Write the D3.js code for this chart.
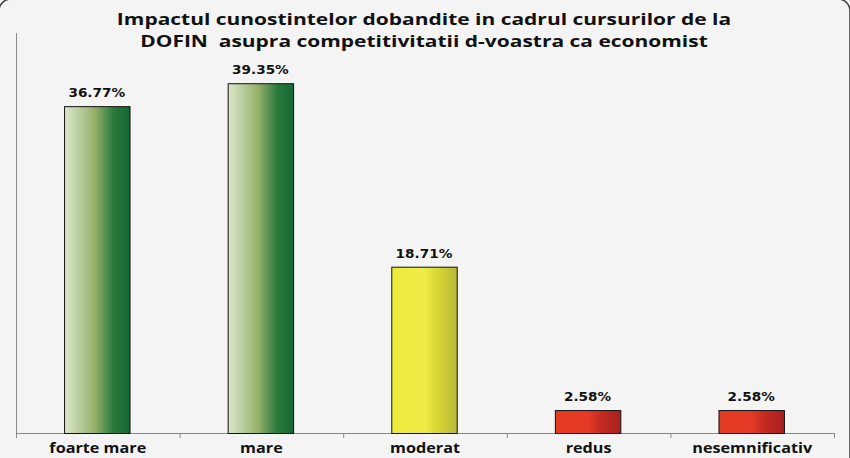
<!DOCTYPE html>
<html>
<head>
<meta charset="utf-8">
<script src="https://cdn.jsdelivr.net/npm/d3@7"></script>
<style>
  body { margin: 0; background: #f3f4f3; }
  text { white-space: pre; }
</style>
</head>
<body>
<script>
// chart values
const categories = ["foarte mare", "mare", "moderat", "redus", "nesemnificativ"];
const values = [36.77, 39.35, 18.71, 2.58, 2.58];
const groups = ["green", "green", "yellow", "red", "red"];
const titleLines = ["Impactul cunostintelor dobandite in cadrul cursurilor de la",
                    "DOFIN  asupra competitivitatii d-voastra ca economist"];

const W = 850, H = 458;
const margin = {top: 33, right: 16, bottom: 25, left: 16};

const svg = d3.select("body").append("svg")
  .attr("width", W)
  .attr("height", H);

svg.append("rect")
  .attr("width", W).attr("height", H)
  .attr("fill", "#f3f4f3");

// rounded outer frame, mostly clipped
svg.append("rect")
  .attr("x", -1).attr("y", -1)
  .attr("width", W + 1).attr("height", H + 30)
  .attr("rx", 12)
  .attr("fill", "none")
  .attr("stroke", "#3a3a3a")
  .attr("stroke-width", 1.5);

const defs = svg.append("defs");
const grads = {
  green: [["0%", "#dbe8cb"], ["45%", "#98b16c"], ["75%", "#2a7a3c"], ["100%", "#146634"]],
  yellow: [["0%", "#ecea3c"], ["50%", "#efec48"], ["70%", "#d8d634"], ["100%", "#b9b73a"]],
  red: [["0%", "#e63a22"], ["50%", "#e43a26"], ["70%", "#c42a22"], ["100%", "#a82020"]]
};
Object.entries(grads).forEach(([k, stops]) => {
  const g = defs.append("linearGradient").attr("id", "g-" + k)
    .attr("x1", "0%").attr("x2", "100%").attr("y1", "0%").attr("y2", "0%");
  stops.forEach(s => g.append("stop").attr("offset", s[0]).attr("stop-color", s[1]));
});

const x = d3.scaleBand()
  .domain(categories)
  .range([margin.left, W - margin.right])
  .paddingInner(0.6)
  .paddingOuter(0.3);

const y = d3.scaleLinear()
  .domain([0, 45])
  .range([H - margin.bottom, margin.top]);

const base = y(0);

// the reference text looks horizontally stretched
function stretch(sel, k) {
  sel.each(function() {
    const w = this.getComputedTextLength();
    d3.select(this).attr("textLength", w * k).attr("lengthAdjust", "spacingAndGlyphs");
  });
}

// y axis line
svg.append("line")
  .attr("x1", margin.left + 0.5).attr("x2", margin.left + 0.5)
  .attr("y1", y(45)).attr("y2", base)
  .attr("stroke", "#888").attr("stroke-width", 1);

// x axis with boundary ticks
const xa = svg.append("g");
xa.append("line")
  .attr("x1", margin.left).attr("x2", W - margin.right)
  .attr("y1", base + 0.5).attr("y2", base + 0.5)
  .attr("stroke", "#888");
xa.selectAll("line.tk")
  .data(d3.range(categories.length + 1))
  .join("line")
  .attr("class", "tk")
  .attr("x1", i => margin.left + i * (W - margin.left - margin.right) / categories.length + 0.5)
  .attr("x2", i => margin.left + i * (W - margin.left - margin.right) / categories.length + 0.5)
  .attr("y1", base).attr("y2", base + 5)
  .attr("stroke", "#888");

// bars
svg.selectAll("rect.bar")
  .data(values)
  .join("rect")
  .attr("class", "bar")
  .attr("x", (d, i) => x(categories[i]) - 0.5)
  .attr("y", d => y(d) + 0.5)
  .attr("width", x.bandwidth())
  .attr("height", d => base - y(d))
  .attr("fill", (d, i) => "url(#g-" + groups[i] + ")")
  .attr("stroke", "#111")
  .attr("stroke-width", 1);

// value labels
svg.selectAll("text.val")
  .data(values)
  .join("text")
  .attr("class", "val")
  .attr("x", (d, i) => x(categories[i]) + x.bandwidth() / 2 - 1)
  .attr("y", d => y(d) - 9)
  .attr("text-anchor", "middle")
  .attr("font-family", "DejaVu Sans")
  .attr("font-weight", "bold")
  .attr("font-size", 12.5)
  .attr("fill", "#111")
  .text(d => d.toFixed(2) + "%")
  .call(stretch, 1.09);

// category labels
svg.selectAll("text.cat")
  .data(categories)
  .join("text")
  .attr("class", "cat")
  .attr("x", d => x(d) + x.bandwidth() / 2)
  .attr("y", base + 20)
  .attr("text-anchor", "middle")
  .attr("font-family", "Open Sans")
  .attr("font-weight", "bold")
  .attr("font-size", 13.5)
  .attr("fill", "#111")
  .text(d => d)
  .call(stretch, 1.2);

// title
svg.selectAll("text.title")
  .data(titleLines)
  .join("text")
  .attr("class", "title")
  .attr("x", 424)
  .attr("y", (d, i) => 25 + i * 22)
  .attr("text-anchor", "middle")
  .attr("font-family", "Open Sans")
  .attr("font-weight", "bold")
  .attr("font-size", 16.5)
  .attr("fill", "#111")
  .text(d => d)
  .call(stretch, 1.27);
</script>
</body>
</html>
